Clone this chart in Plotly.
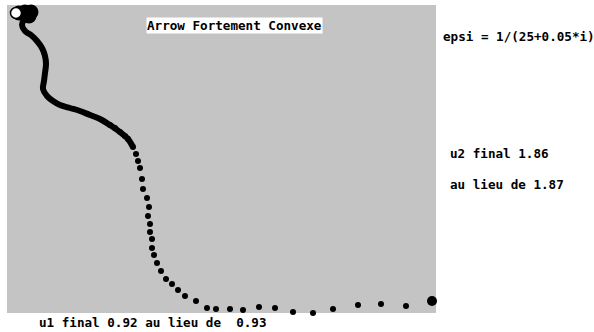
import plotly.graph_objects as go

# Trajectory (u1, u2) in plot units (x: 0..429 across, y: 0..308 up)
path_x = [9, 17, 24, 23, 17, 15, 18, 24, 30, 35, 38, 39, 38, 37, 36, 40, 46, 53, 63, 73, 83, 93, 103, 113, 121, 126]
path_y = [300, 302, 301, 296, 293, 288, 282, 278, 272, 265, 257, 249, 240, 232, 224, 217, 212, 208, 205, 202, 198, 194, 188, 181, 174, 166]

blob_x = [12, 18, 24, 22]
blob_y = [300, 301, 301, 297]

dots_x = [103, 108, 113, 118, 121, 126, 129, 131, 133, 135, 136, 140, 142, 141, 143, 143, 145, 145, 147, 150, 154, 159,
          165, 171, 178, 189, 200, 209, 223, 236, 252, 268, 286, 306, 326, 351, 374, 399]
dots_y = [188, 185, 181, 177, 174, 166, 159, 152, 145, 134, 124, 115, 106, 97, 89, 81, 74, 65, 58, 50, 42, 34,
          29, 23, 17, 12, 5, 4, 4, 3, 6, 5, 1, 0, 4, 8, 9, 7]

start_x, start_y = [9], [300]
end_x, end_y = [425], [12]

title_text = "Arrow Fortement Convexe"
eps_text = "epsi = 1/(25+0.05*i)"
u2_text = "u2 final 1.86"
u2_ref_text = "au lieu de 1.87"
u1_text = "u1 final 0.92 au lieu de  0.93"

font = dict(family="DejaVu Sans Mono", size=12.6, color="black", weight="bold")

fig = go.Figure()
fig.add_trace(go.Scatter(x=path_x, y=path_y, mode="lines",
                         line=dict(color="black", width=6, shape="spline"),
                         hoverinfo="skip", cliponaxis=False))
fig.add_trace(go.Scatter(x=blob_x, y=blob_y, mode="markers",
                         marker=dict(color="black", size=15), cliponaxis=False))
fig.add_trace(go.Scatter(x=dots_x, y=dots_y, mode="markers",
                         marker=dict(color="black", size=6), cliponaxis=False))
fig.add_trace(go.Scatter(x=start_x, y=start_y, mode="markers",
                         marker=dict(color="white", size=11, line=dict(color="black", width=1.5)),
                         cliponaxis=False))
fig.add_trace(go.Scatter(x=end_x, y=end_y, mode="markers",
                         marker=dict(color="black", size=10), cliponaxis=False))

fig.update_layout(
    width=594, height=332,
    margin=dict(l=7, r=158, t=5, b=19),
    paper_bgcolor="white", plot_bgcolor="#c4c4c4",
    showlegend=False,
    xaxis=dict(range=[0, 429], visible=False, fixedrange=True),
    yaxis=dict(range=[0, 308], visible=False, fixedrange=True),
    annotations=[
        dict(text=title_text, x=0.531, y=0.961, xref="paper", yref="paper",
             showarrow=False, font=font, bgcolor="white", borderpad=0),
        dict(text=eps_text, x=1.012, y=0.929, xref="paper", yref="paper",
             xanchor="left", showarrow=False, font=font),
        dict(text=u2_text, x=1.028, y=0.519, xref="paper", yref="paper",
             xanchor="left", showarrow=False, font=font),
        dict(text=u2_ref_text, x=1.028, y=0.416, xref="paper", yref="paper",
             xanchor="left", showarrow=False, font=font),
        dict(text=u1_text, x=0.07, y=-0.032, xref="paper", yref="paper",
             xanchor="left", yanchor="middle", showarrow=False, font=font),
    ],
)

fig.write_html("out.html")
